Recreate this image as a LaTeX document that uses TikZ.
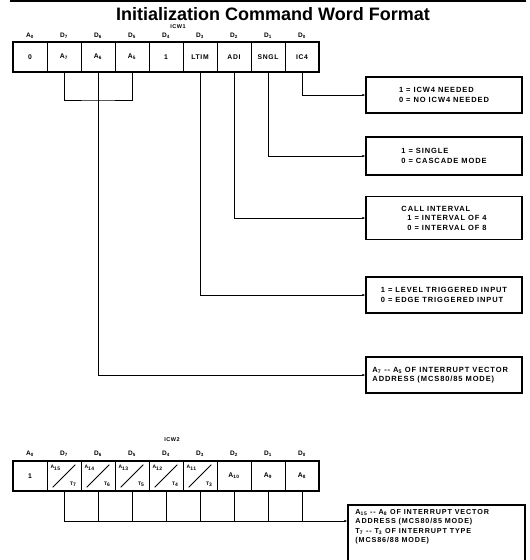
\documentclass[tikz,border=0pt]{standalone}
\usepackage{fontspec}
\setmainfont{Liberation Sans}
\newfontfamily\scanfont[LetterSpace=10]{Liberation Sans}
\newfontfamily\boxfont[LetterSpace=12]{Liberation Sans}
\usetikzlibrary{arrows.meta}
\begin{document}
\begin{tikzpicture}[x=1pt,y=-1pt,
  cell/.style={draw, line width=0.7pt, minimum width=34pt, minimum height=30pt, inner sep=0pt,
    font=\scanfont\bfseries\fontsize{6.8}{7}\selectfont},
  bitlbl/.style={font=\scanfont\bfseries\fontsize{6.5}{7}\selectfont, inner sep=0pt},
  reglbl/.style={font=\scanfont\bfseries\fontsize{5.5}{6}\selectfont, inner sep=0pt},
  regframe/.style={line width=2pt},
  infobox/.style={draw, line width=1.5pt, minimum width=156pt, inner sep=0pt},
  infotext/.style={font=\boxfont\bfseries\fontsize{7.5}{9.5}\selectfont, align=left, inner sep=0pt},
  conn/.style={line width=0.9pt},
  arr/.style={conn, -{Latex[length=3pt,width=2.6pt]}},
  diag/.style={line width=0.8pt},
  small/.style={font=\scanfont\bfseries\fontsize{5}{6}\selectfont, inner sep=0pt}
]
\useasboundingbox (0,0) rectangle (530,560);
\coordinate (rl) at (10,1);
\coordinate (rr) at (526,1);
\draw[line width=1.4pt] (rl) -- (rr);
\node[font=\bfseries\fontsize{18}{20}\selectfont] (title) at (273,14) {Initialization Command Word Format};

% ---------- ICW1 ----------
\node[reglbl] (icw1) at (178,27) {ICW1};
\foreach \t [count=\i from 0] in {A\textsubscript{0},D\textsubscript{7},D\textsubscript{6},D\textsubscript{5},D\textsubscript{4},D\textsubscript{3},D\textsubscript{2},D\textsubscript{1},D\textsubscript{0}}
  \node[bitlbl] (la\i) at ({30+34*\i},36) {\t};
\foreach \t [count=\i from 0] in {0,A\textsubscript{7},A\textsubscript{6},A\textsubscript{5},1,LTIM,ADI,SNGL,IC4}
  \node[cell] (a\i) at ({30+34*\i},57) {\t};
\draw[regframe] (a0.north west) rectangle (a8.south east);

\node[infobox, minimum height=36pt] (b1) at (444,95) {};
\node[infotext] (t1) at (b1.center) {1 = ICW4 NEEDED\\0 = NO ICW4 NEEDED};
\node[infobox, minimum height=38pt] (b2) at (444,156) {};
\node[infotext] (t2) at (b2.center) {1 = SINGLE\\0 = CASCADE MODE};
\node[infobox, minimum height=43pt] (b3) at (444,218) {};
\node[infotext] (t3) at (b3.center) {CALL INTERVAL\\\hspace*{6pt}1 = INTERVAL OF 4\\\hspace*{6pt}0 = INTERVAL OF 8};
\node[infobox, minimum height=36pt] (b4) at (444,295) {};
\node[infotext] (t4) at (b4.center) {1 = LEVEL TRIGGERED INPUT\\0 = EDGE TRIGGERED INPUT};
\node[infobox, minimum height=36pt] (b5) at (444,375) {};
\node[infotext, anchor=west] (t5) at ([xshift=7pt]b5.west) {A\textsubscript{7} -- A\textsubscript{5} OF INTERRUPT VECTOR\\ADDRESS (MCS80/85 MODE)};

\draw[arr] (a8.south) |- (b1.west);
\draw[arr] (a7.south) |- (b2.west);
\draw[arr] (a6.south) |- (b3.west);
\draw[arr] (a5.south) |- (b4.west);
\coordinate (kb) at (98,100);
\draw[conn] (a1.south) |- (kb) -| (a3.south);
\draw[conn] (a2.south) -- (kb);
\draw[arr] (kb) |- (b5.west);

% ---------- ICW2 ----------
\node[reglbl] (icw2) at (172,440) {ICW2};
\foreach \t [count=\i from 0] in {A\textsubscript{0},D\textsubscript{7},D\textsubscript{6},D\textsubscript{5},D\textsubscript{4},D\textsubscript{3},D\textsubscript{2},D\textsubscript{1},D\textsubscript{0}}
  \node[bitlbl] (lc\i) at ({30+34*\i},454) {\t};
\foreach \t [count=\i from 0] in {1,,,,,,A\textsubscript{10},A\textsubscript{9},A\textsubscript{8}}
  \node[cell] (c\i) at ({30+34*\i},476) {\t};
\draw[regframe] (c0.north west) rectangle (c8.south east);
\foreach \i/\ta/\tb in {1/15/7,2/14/6,3/13/5,4/12/4,5/11/3}{
  \draw[diag] ([shift={(6,-4)}]c\i.south west) -- ([shift={(-6,4)}]c\i.north east);
  \node[small] (ua\i) at ([shift={(9,7)}]c\i.north west) {A\textsubscript{\ta}};
  \node[small] (ut\i) at ([shift={(-8,-7)}]c\i.south east) {T\textsubscript{\tb}};
}
\node[draw, line width=1.5pt, minimum width=177pt, minimum height=60pt, inner sep=0pt] (tb) at (436.5,535) {};
\node[infotext, anchor=north west, font=\boxfont\bfseries\fontsize{7.2}{9.3}\selectfont] (tbt) at ([shift={(8,5)}]tb.north west)
  {A\textsubscript{15} -- A\textsubscript{8} OF INTERRUPT VECTOR\\ADDRESS (MCS80/85 MODE)\\T\textsubscript{7} -- T\textsubscript{3} OF INTERRUPT TYPE\\(MCS86/88 MODE)};
\coordinate (lb) at (302,521);
\draw[conn] (c1.south) |- (lb);
\draw[conn] (c8.south) -- (lb);
\foreach \i in {2,...,7} \draw[conn] (c\i.south) -- (c\i.south |- lb);
\draw[arr] (lb) -- (tb.west |- lb);
\end{tikzpicture}
\end{document}
